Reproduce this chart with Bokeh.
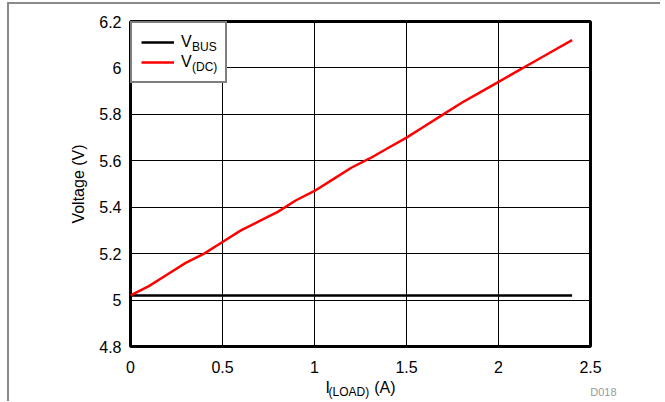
from bokeh.plotting import figure
from bokeh.models import (Legend, LegendItem, FixedTicker, CustomJSTickFormatter,
                          Range1d, LinearAxis)
from bokeh.embed import file_html
from bokeh.resources import INLINE

# ---- data ----
i_load = [0.0, 0.1, 0.2, 0.3, 0.4, 0.5, 0.6, 0.7, 0.8, 0.9, 1.0, 1.1, 1.2,
          1.3, 1.4, 1.5, 1.6, 1.7, 1.8, 1.9, 2.0, 2.1, 2.2, 2.3, 2.4]
v_dc = [5.02, 5.06, 5.11, 5.16, 5.20, 5.25, 5.30, 5.34, 5.38, 5.43, 5.47, 5.52,
        5.57, 5.61, 5.655, 5.70, 5.75, 5.80, 5.85, 5.895, 5.94, 5.985, 6.03,
        6.075, 6.12]
v_bus = [5.02] * len(i_load)
x_ticks = [0, 0.5, 1, 1.5, 2, 2.5]
y_ticks = [4.8, 5.0, 5.2, 5.4, 5.6, 5.8, 6.0, 6.2]
series_names = ["V", "V"]
series_subs = ["BUS", "(DC)"]

FONT = "Liberation Sans"
NB = "\u00a0"

p = figure(output_backend="svg", toolbar_location=None,
           frame_width=460, frame_height=325,
           min_border_left=121, min_border_top=17, min_border_right=70,
           min_border_bottom=20,
           x_range=Range1d(0, 2.5), y_range=Range1d(4.8, 6.2))
p.styles = {"border-left": "2px solid #8a8a8a", "border-top": "2px solid #8a8a8a",
            "margin-left": "7px", "margin-top": "2px"}

p.outline_line_color = "black"
p.outline_line_width = 3
p.background_fill_color = "white"

for g in (p.xgrid[0], p.ygrid[0]):
    g.grid_line_color = "black"
    g.grid_line_width = 1
    g.grid_line_alpha = 1

fmt = CustomJSTickFormatter(code="return (Math.round(tick*10)/10).toString();")

p.xaxis.ticker = FixedTicker(ticks=x_ticks)
p.yaxis.ticker = FixedTicker(ticks=y_ticks)
for ax in (p.xaxis[0], p.yaxis[0]):
    ax.formatter = fmt
    ax.axis_line_color = None
    ax.major_tick_line_color = None
    ax.minor_tick_line_color = None
    ax.major_label_text_font = FONT
    ax.major_label_text_font_size = "16px"
    ax.major_label_text_color = "black"
p.xaxis.major_label_standoff = 8
p.yaxis.major_label_standoff = 3

p.yaxis.axis_label = "Voltage (V)"
p.yaxis.axis_label_text_font = FONT
p.yaxis.axis_label_text_font_size = "16px"
p.yaxis.axis_label_text_font_style = "normal"
p.yaxis.axis_label_text_color = "black"
p.yaxis.axis_label_standoff = 9

# x-axis title: main part "I ... (A)", subscript "(LOAD)" on a helper axis
p.xaxis.axis_label = "I" + NB * 10 + "(A)"
p.xaxis.axis_label_text_font = FONT
p.xaxis.axis_label_text_font_size = "16px"
p.xaxis.axis_label_text_font_style = "normal"
p.xaxis.axis_label_text_color = "black"
p.xaxis.axis_label_standoff = 3


def helper_axis(label, size, color, standoff):
    return LinearAxis(ticker=FixedTicker(ticks=[]), axis_line_color=None,
                      major_tick_line_color=None, minor_tick_line_color=None,
                      major_label_text_font_size="0px", major_label_standoff=0,
                      major_tick_out=0, minor_tick_out=0,
                      axis_label=label, axis_label_text_font=FONT,
                      axis_label_text_font_size=size,
                      axis_label_text_font_style="normal",
                      axis_label_text_color=color, axis_label_standoff=standoff)


p.add_layout(helper_axis("(LOAD)" + NB * 7, "12px", "black", -14), "below")
p.add_layout(helper_axis(NB * 159 + "D018", "11px", "#9a9a9a", -16), "below")

r_bus = p.line(i_load, v_bus, line_color="black", line_width=2.5)
r_dc = p.line(i_load, v_dc, line_color="#ff0000", line_width=2.5)

legend = Legend(items=[LegendItem(label=series_names[0], renderers=[r_bus]),
                       LegendItem(label=series_names[1], renderers=[r_dc])],
                location="top_left", margin=0, padding=9, spacing=0,
                glyph_width=33, glyph_height=20, label_height=20,
                label_width=35, label_standoff=7,
                label_text_font=FONT, label_text_font_size="16px",
                label_text_color="black",
                border_line_color="black", border_line_width=2.5,
                background_fill_color="white", background_fill_alpha=1)
p.add_layout(legend, "center")

# legend subscripts: a second, transparent legend laid over the first
sub_legend = Legend(items=[LegendItem(label=series_subs[0], renderers=[r_bus]),
                           LegendItem(label=series_subs[1], renderers=[r_dc])],
                    location=(62, 269), margin=0, padding=9, spacing=0,
                    glyph_width=0, glyph_height=20, label_height=20,
                    label_width=30, label_standoff=0,
                    label_text_font=FONT, label_text_font_size="12px",
                    label_text_color="black",
                    border_line_color=None, background_fill_alpha=0)
p.add_layout(sub_legend, "center")

open("out.html", "w").write(file_html(p, INLINE))
